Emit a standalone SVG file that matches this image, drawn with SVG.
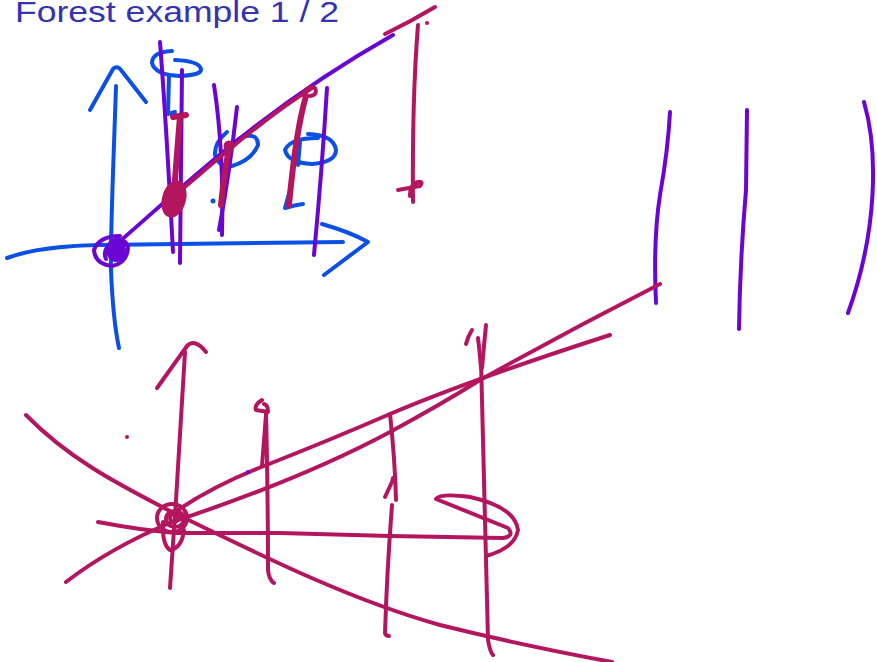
<svg xmlns="http://www.w3.org/2000/svg" width="877" height="662" viewBox="0 0 877 662">
<style>
.b{fill:none;stroke:#0b50e4;stroke-width:4;stroke-linecap:round;stroke-linejoin:round}
.p{fill:none;stroke:#6a05d4;stroke-width:4;stroke-linecap:round;stroke-linejoin:round}
.m{fill:none;stroke:#b3165f;stroke-width:4;stroke-linecap:round;stroke-linejoin:round}
.mt{fill:none;stroke:#b3165f;stroke-width:6;stroke-linecap:round;stroke-linejoin:round}
.t{font-family:"Liberation Sans",Arial,sans-serif;font-size:29px;fill:#3333b3}
</style>
<rect width="877" height="662" fill="#ffffff"/>
<text class="t" x="15" y="22" textLength="324" lengthAdjust="spacingAndGlyphs">Forest example 1 / 2</text>
<g id="top-sketch">
<path class="b" d="M116,86 C114,150 110,240 111,270 Q113,320 119,348"/>
<path class="b" d="M90,110 L113,69 Q117,65 121,70 L146,102"/>
<path class="b" d="M7,258 Q40,246 100,245 L343,242"/>
<path class="b" d="M322,224 Q350,232 368,242 L324,275"/>
<path class="b" d="M172,51 Q152,52 152,63 Q155,75 180,76 Q202,75 201,69 Q199,61 175,60"/>
<path class="b" d="M169,75 L168,114 L175,112"/>
<path class="b" d="M227,132 Q214,143 215,155 Q219,168 232,166 Q252,160 258,145 Q258,134 246,136 Q238,138 235,143"/>
<path class="b" d="M318,138 Q290,138 285,150 Q288,163 312,164 Q336,162 336,150 Q334,135 308,134"/>
<path class="b" d="M300,142 L298,165"/>
<path class="b" d="M290,190 L285,208 Q295,205 303,204"/>
<circle cx="213" cy="201" r="2.5" fill="#0b50e4"/>
<path class="p" d="M112,248 C180,190 260,110 393,35"/>
<path class="p" d="M120,236 Q99,236 94,250 Q95,264 112,266 Q127,263 128,248 Q126,236 112,242 Q102,250 106,259"/>
<ellipse cx="116" cy="250" rx="10" ry="12" fill="#6a05d4"/>
<path class="p" d="M160,42 Q166,120 173,252"/>
<path class="p" d="M182,70 L180,263"/>
<path class="p" d="M214,85 Q224,150 222,235"/>
<path class="p" d="M237,107 Q230,170 219,230"/>
<path class="p" d="M327,88 Q322,170 314,255"/>
<path class="mt" d="M173,117 L186,115"/>
<path class="mt" d="M180,116 L174,192"/>
<ellipse cx="174" cy="199" rx="12" ry="19" transform="rotate(15 174 199)" fill="#b3165f"/>
<path class="m" d="M175,195 C200,175 260,120 312,88"/>
<circle cx="229" cy="146" r="5.5" fill="#b3165f"/>
<path class="m" d="M302,95 Q308,85 315,88 Q318,95 310,96"/>
<path class="mt" d="M229,148 Q224,175 221,205"/>
<path class="mt" d="M306,96 Q296,130 289,205"/>
<path class="m" d="M385,34 Q410,22 435,7"/>
<path class="m" d="M418,25 Q412,100 413,202"/>
<circle cx="427" cy="23" r="2" fill="#b3165f"/>
<path class="m" d="M398,190 L420,186 Q424,181 418,182 Q410,184 410,196"/>
<path class="p" d="M670,112 Q668,150 660,195 Q653,240 656,303"/>
<path class="p" d="M747,110 L746,190 Q740,260 739,329"/>
<path class="p" d="M864,102 C878,150 878,230 848,313"/>
</g>
<g id="bottom-sketch">
<path class="m" d="M185,352 L176,500 L170,588"/>
<path class="m" d="M157,388 L187,346 Q195,338 206,352"/>
<path class="m" d="M26,415 C70,460 120,485 168,510 C260,555 350,600 440,625 Q520,645 612,662"/>
<path class="m" d="M66,582 Q110,548 172,522 Q300,480 390,432 Q440,405 480,380 Q570,330 660,284"/>
<path class="m" d="M178,510 Q215,485 264,466 Q330,440 390,414 Q470,380 610,335"/>
<path class="m" d="M98,522 Q140,530 176,533 L280,533 L390,536 L503,538 Q515,536 508,528 L436,499 Q440,493 470,497 Q515,507 518,530 Q515,548 486,556"/>
<ellipse class="m" cx="172" cy="518" rx="15" ry="14"/>
<ellipse class="m" cx="175" cy="519" rx="9" ry="8"/>
<ellipse class="m" cx="174" cy="518" rx="4" ry="4"/>
<path class="m" d="M163,522 Q162,545 170,550 Q182,548 184,530"/>
<path class="m" d="M266,412 Q268,500 268,570 Q269,580 274,583"/>
<path class="m" d="M262,400 Q254,405 256,410 L268,412 Q268,405 264,404"/>
<path class="m" d="M262,466 L266,415"/>
<circle cx="248" cy="472" r="2" fill="#6a05d4"/>
<circle cx="127" cy="437" r="2" fill="#b3165f"/>
<path class="m" d="M390,414 Q395,460 396,500"/>
<path class="m" d="M385,497 L392,482 L393,478"/>
<path class="m" d="M392,505 Q387,570 385,633 Q386,636 389,636"/>
<path class="m" d="M466,344 Q468,336 472,330"/>
<path class="m" d="M478,338 Q480,355 481,368"/>
<path class="m" d="M486,325 Q484,345 482,368"/>
<path class="m" d="M481,360 Q485,500 488,640 Q490,652 493,655"/>
</g>
</svg>
